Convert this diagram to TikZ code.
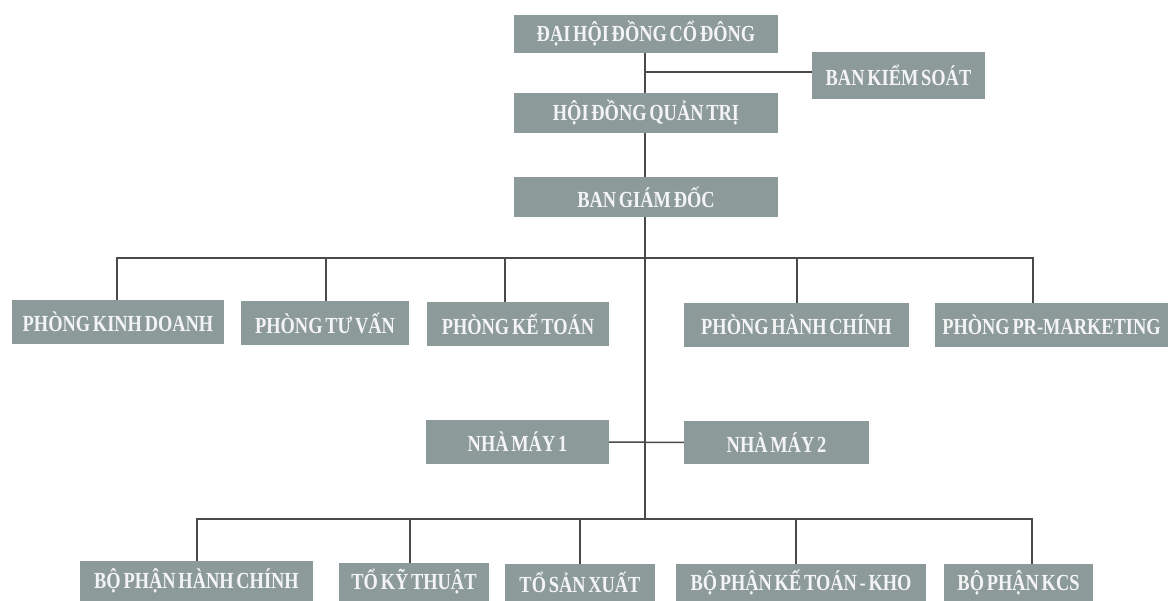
\documentclass[tikz,border=0pt]{standalone}
\usepackage{fontspec}
\setmainfont{Liberation Serif}[FakeStretch=0.80,WordSpace=0.6]
\definecolor{boxgray}{HTML}{8C9A9A}
\definecolor{linegray}{HTML}{4A4A4A}
\definecolor{txtwhite}{HTML}{F4F4F4}
\begin{document}
\begin{tikzpicture}[x=1pt,y=-1pt,
  orgbox/.style={fill=boxgray,draw=none,inner sep=0pt,text=txtwhite,
    font=\fontsize{23}{23}\selectfont\bfseries,align=center},
  link/.style={draw=linegray,line width=1.5pt}]
\useasboundingbox (0,0) rectangle (1170,601);
% top levels
\node[orgbox,minimum width=264pt,minimum height=38pt] (dh) at (646,34) {ĐẠI HỘI ĐỒNG CỔ ĐÔNG};
\node[orgbox,minimum width=173pt,minimum height=47pt] (bks) at (898.5,75.5) {BAN KIỂM SOÁT};
\node[orgbox,minimum width=264pt,minimum height=40pt] (hdqt) at (646,113) {HỘI ĐỒNG QUẢN TRỊ};
\node[orgbox,minimum width=264pt,minimum height=40pt] (bgd) at (646,197) {BAN GIÁM ĐỐC};
% departments
\node[orgbox,minimum width=212pt,minimum height=44pt] (pkd) at (118,322) {PHÒNG KINH DOANH};
\node[orgbox,minimum width=168pt,minimum height=44pt] (ptv) at (325,323) {PHÒNG TƯ VẤN};
\node[orgbox,minimum width=182pt,minimum height=44pt] (pkt) at (518,324) {PHÒNG KẾ TOÁN};
\node[orgbox,minimum width=225pt,minimum height=44pt] (phc) at (796.5,325) {PHÒNG HÀNH CHÍNH};
\node[orgbox,minimum width=233pt,minimum height=44pt] (ppr) at (1051.5,325) {PHÒNG PR-MARKETING};
% factories
\node[orgbox,minimum width=183pt,minimum height=44pt] (nm1) at (517.5,442) {NHÀ MÁY 1};
\node[orgbox,minimum width=185pt,minimum height=43pt] (nm2) at (776.5,442.5) {NHÀ MÁY 2};
% units
\node[orgbox,minimum width=233pt,minimum height=40pt] (bp1) at (196.5,581) {BỘ PHẬN HÀNH CHÍNH};
\node[orgbox,minimum width=150pt,minimum height=38pt] (tkt) at (414,582) {TỔ KỸ THUẬT};
\node[orgbox,minimum width=150pt,minimum height=37pt] (tsx) at (580,582.5) {TỔ SẢN XUẤT};
\node[orgbox,minimum width=250pt,minimum height=37pt] (bkt) at (801,582.5) {BỘ PHẬN KẾ TOÁN - KHO};
\node[orgbox,minimum width=149pt,minimum height=37pt] (kcs) at (1018.5,582.5) {BỘ PHẬN KCS};
% bus coordinates
\coordinate (ks) at (645,72);
\coordinate (busA) at (645,258);
\coordinate (busB) at (645,519);
% trunk
\draw[link] (dh.south -| ks) -- (hdqt.north -| ks);
\draw[link] (ks) -- (ks -| bks.west);
\draw[link] (hdqt.south -| ks) -- (bgd.north -| ks);
\draw[link] (bgd.south -| ks) -- (busB);
% department bus
\draw[link] (pkd.north -| 117,0) -- (117,258) -- (1033,258) -- (ppr.north -| 1033,0);
\draw[link] (busA -| 326,0) -- (ptv.north -| 326,0);
\draw[link] (busA -| 505,0) -- (pkt.north -| 505,0);
\draw[link] (busA -| 797,0) -- (phc.north -| 797,0);
% factories
\draw[link] (nm1.east) -- (nm2.west);
% unit bus
\draw[link] (bp1.north -| 197,0) -- (197,519) -- (1032,519) -- (kcs.north -| 1032,0);
\draw[link] (busB -| 410,0) -- (tkt.north -| 410,0);
\draw[link] (busB -| 580,0) -- (tsx.north -| 580,0);
\draw[link] (busB -| 796,0) -- (bkt.north -| 796,0);
\end{tikzpicture}
\end{document}
